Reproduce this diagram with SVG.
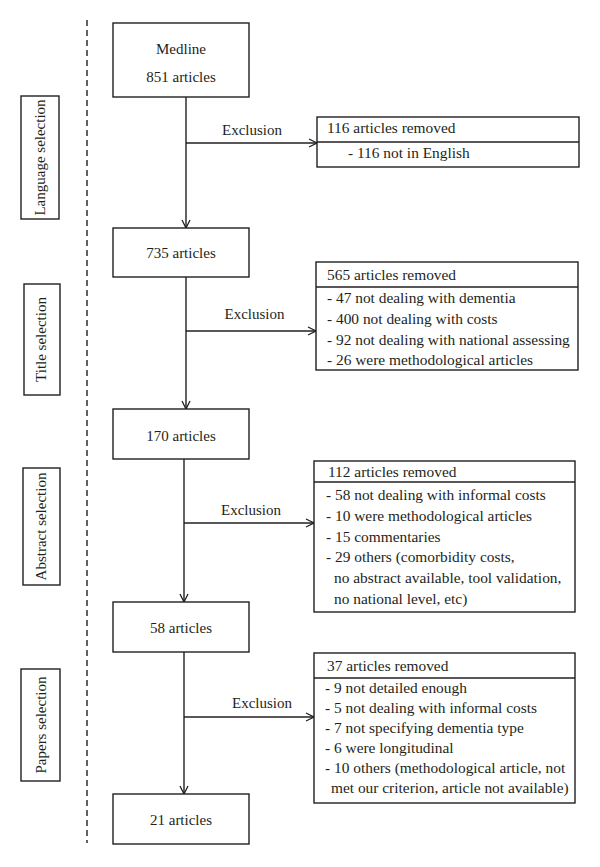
<svg xmlns="http://www.w3.org/2000/svg" width="600" height="867" viewBox="0 0 600 867">
<defs>
<style>
.box{fill:#fff;stroke:#231f20;stroke-width:1.4}
.ln{fill:none;stroke:#231f20;stroke-width:1.4}
text{font-family:"Liberation Serif","Times New Roman",serif;font-size:15px;fill:#231f20}
.r text{font-size:15.4px}
.c{text-anchor:middle}
</style>
<marker id="ah" viewBox="0 0 10 10" refX="9" refY="5" markerWidth="10" markerHeight="10" markerUnits="userSpaceOnUse" orient="auto">
<path d="M1,1 L9,5 L1,9" fill="none" stroke="#231f20" stroke-width="1.3"/>
</marker>
</defs>
<rect width="600" height="867" fill="#fff"/>
<g id="divider"><line x1="87" y1="20" x2="87" y2="843" class="ln" stroke-dasharray="6,4"/></g>
<g id="stage-language"><rect x="21" y="96" width="38" height="123" class="box"/><text class="c" transform="translate(45,157.5) rotate(-90)">Language selection</text></g>
<g id="stage-title"><rect x="24" y="284" width="36" height="111" class="box"/><text class="c" transform="translate(46,339.5) rotate(-90)">Title selection</text></g>
<g id="stage-abstract"><rect x="23" y="468" width="37" height="117" class="box"/><text class="c" transform="translate(46,526.5) rotate(-90)">Abstract selection</text></g>
<g id="stage-papers"><rect x="21" y="669" width="39" height="112" class="box"/><text class="c" transform="translate(46,725) rotate(-90)">Papers selection</text></g>
<g id="connectors">
<line x1="186" y1="97" x2="186" y2="228" class="ln" marker-end="url(#ah)"/>
<line x1="186" y1="143" x2="317" y2="143" class="ln" marker-end="url(#ah)"/>
<line x1="186" y1="277" x2="186" y2="409" class="ln" marker-end="url(#ah)"/>
<line x1="186" y1="331" x2="316" y2="331" class="ln" marker-end="url(#ah)"/>
<line x1="184" y1="459" x2="184" y2="602" class="ln" marker-end="url(#ah)"/>
<line x1="184" y1="523" x2="314" y2="523" class="ln" marker-end="url(#ah)"/>
<line x1="184" y1="652" x2="184" y2="794" class="ln" marker-end="url(#ah)"/>
<line x1="184" y1="717" x2="314" y2="717" class="ln" marker-end="url(#ah)"/>
<text x="252" y="135" class="c">Exclusion</text>
<text x="254.5" y="319" class="c">Exclusion</text>
<text x="251" y="515" class="c">Exclusion</text>
<text x="262" y="708" class="c">Exclusion</text>
</g>
<g id="n-medline"><rect x="113" y="23" width="136" height="74" class="box"/><text x="181" y="54" class="c">Medline</text><text x="181" y="82" class="c">851 articles</text></g>
<g id="n-735"><rect x="113" y="228" width="136" height="49" class="box"/><text x="181" y="258" class="c">735 articles</text></g>
<g id="n-170"><rect x="113" y="409" width="136" height="50" class="box"/><text x="181" y="441" class="c">170 articles</text></g>
<g id="n-58"><rect x="113" y="602" width="136" height="50" class="box"/><text x="181" y="633" class="c">58 articles</text></g>
<g id="n-21"><rect x="113" y="794" width="136" height="50" class="box"/><text x="181" y="825" class="c">21 articles</text></g>
<g id="r-116" class="r"><rect x="317" y="117" width="262" height="50" class="box"/><line x1="317" y1="142" x2="579" y2="142" class="ln"/>
<text x="327" y="133">116 articles removed</text><text x="348" y="158">- 116 not in English</text></g>
<g id="r-565" class="r"><rect x="316" y="262" width="262" height="108" class="box"/><line x1="316" y1="287" x2="578" y2="287" class="ln"/>
<text x="327" y="280">565 articles removed</text>
<text x="327" y="303">- 47 not dealing with dementia</text>
<text x="327" y="324">- 400 not dealing with costs</text>
<text x="327" y="345">- 92 not dealing with national assessing</text>
<text x="327" y="365">- 26 were methodological articles</text></g>
<g id="r-112" class="r"><rect x="314" y="461" width="261" height="151" class="box"/><line x1="314" y1="482" x2="575" y2="482" class="ln"/>
<text x="328" y="477">112 articles removed</text>
<text x="326" y="500">- 58 not dealing with informal costs</text>
<text x="326" y="521">- 10 were methodological articles</text>
<text x="326" y="542">- 15 commentaries</text>
<text x="326" y="562">- 29 others (comorbidity costs,</text>
<text x="334" y="583">no abstract available, tool validation,</text>
<text x="334" y="604">no national level, etc)</text></g>
<g id="r-37" class="r"><rect x="314" y="653" width="261" height="150" class="box"/><line x1="314" y1="678" x2="575" y2="678" class="ln"/>
<text x="327" y="671">37 articles removed</text>
<text x="325" y="693">- 9 not detailed enough</text>
<text x="325" y="713">- 5 not dealing with informal costs</text>
<text x="325" y="733">- 7 not specifying dementia type</text>
<text x="325" y="753">- 6 were longitudinal</text>
<text x="325" y="773">- 10 others (methodological article, not</text>
<text x="331" y="793">met our criterion, article not available)</text></g>
</svg>
